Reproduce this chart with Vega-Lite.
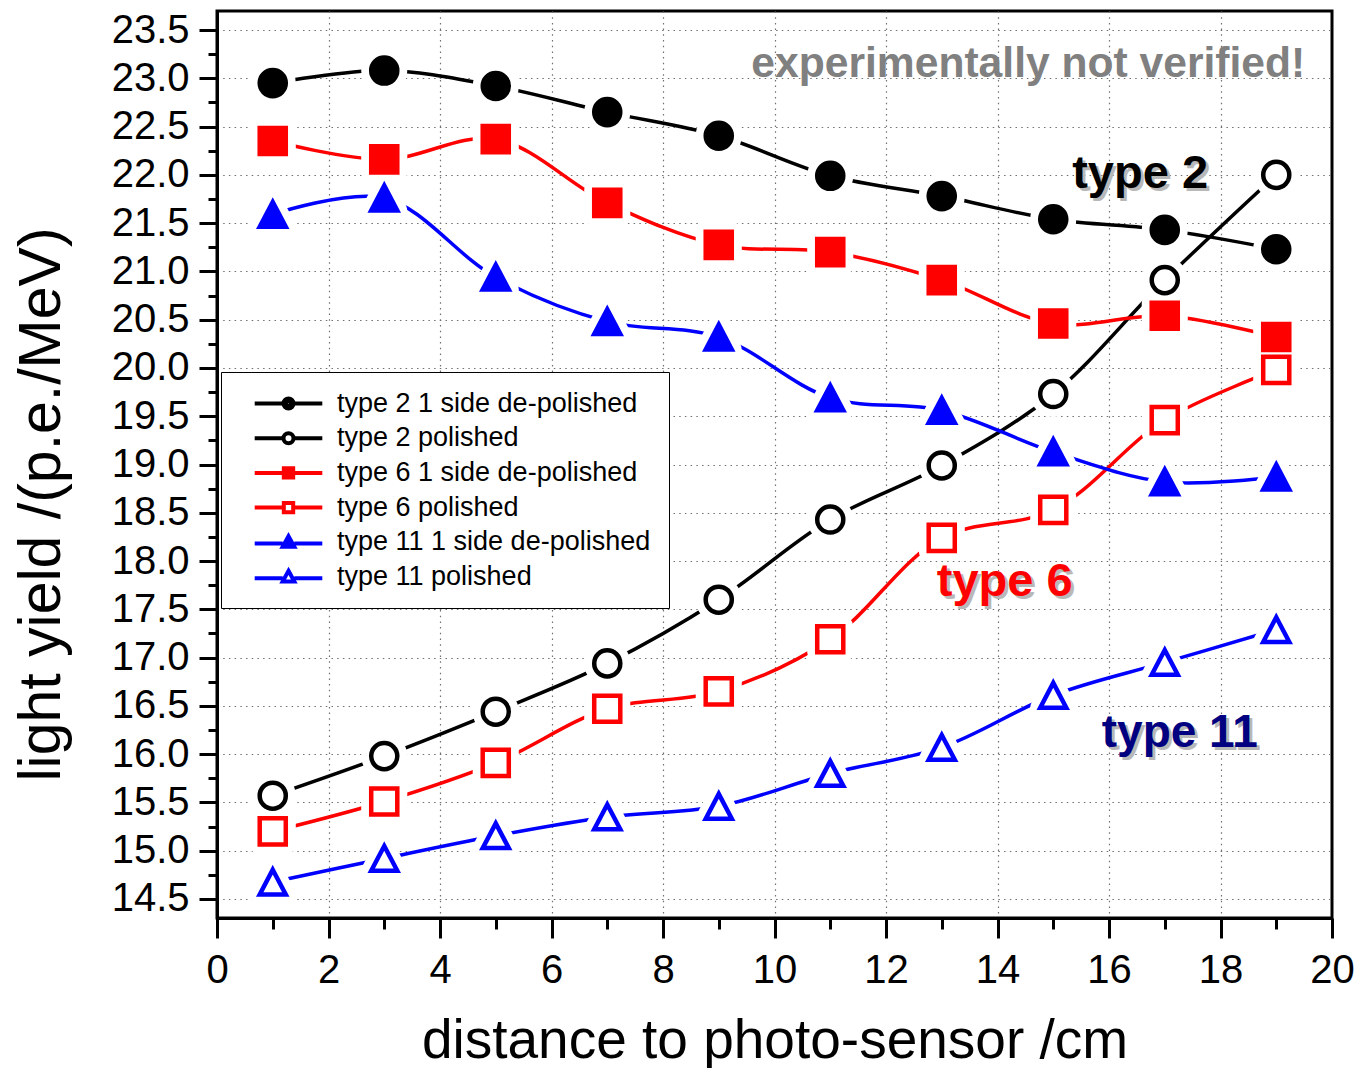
{
  "$schema": "https://vega.github.io/schema/vega-lite/v6.json",
  "width": 1115,
  "height": 907,
  "autosize": {"type": "none"},
  "padding": {"left": 217, "top": 11, "right": 27, "bottom": 150},
  "background": "white",
  "config": {
    "font": "Liberation Sans",
    "view": {"stroke": "black", "strokeWidth": 3}
  },
  "datasets": {
    "main": [
      {"series": "type 2 1 side de-polished", "x": 1, "y": 22.95},
      {"series": "type 2 1 side de-polished", "x": 3, "y": 23.08},
      {"series": "type 2 1 side de-polished", "x": 5, "y": 22.92},
      {"series": "type 2 1 side de-polished", "x": 7, "y": 22.65},
      {"series": "type 2 1 side de-polished", "x": 9, "y": 22.405},
      {"series": "type 2 1 side de-polished", "x": 11, "y": 21.99},
      {"series": "type 2 1 side de-polished", "x": 13, "y": 21.78},
      {"series": "type 2 1 side de-polished", "x": 15, "y": 21.54},
      {"series": "type 2 1 side de-polished", "x": 17, "y": 21.43},
      {"series": "type 2 1 side de-polished", "x": 19, "y": 21.23},
      {"series": "type 2 polished", "x": 1, "y": 15.57},
      {"series": "type 2 polished", "x": 3, "y": 15.98},
      {"series": "type 2 polished", "x": 5, "y": 16.44},
      {"series": "type 2 polished", "x": 7, "y": 16.94},
      {"series": "type 2 polished", "x": 9, "y": 17.6},
      {"series": "type 2 polished", "x": 11, "y": 18.43},
      {"series": "type 2 polished", "x": 13, "y": 18.99},
      {"series": "type 2 polished", "x": 15, "y": 19.73},
      {"series": "type 2 polished", "x": 17, "y": 20.91},
      {"series": "type 2 polished", "x": 19, "y": 22.0},
      {"series": "type 6 1 side de-polished", "x": 1, "y": 22.35},
      {"series": "type 6 1 side de-polished", "x": 3, "y": 22.16},
      {"series": "type 6 1 side de-polished", "x": 5, "y": 22.37},
      {"series": "type 6 1 side de-polished", "x": 7, "y": 21.71},
      {"series": "type 6 1 side de-polished", "x": 9, "y": 21.275},
      {"series": "type 6 1 side de-polished", "x": 11, "y": 21.2},
      {"series": "type 6 1 side de-polished", "x": 13, "y": 20.91},
      {"series": "type 6 1 side de-polished", "x": 15, "y": 20.46},
      {"series": "type 6 1 side de-polished", "x": 17, "y": 20.54},
      {"series": "type 6 1 side de-polished", "x": 19, "y": 20.32},
      {"series": "type 6 polished", "x": 1, "y": 15.2},
      {"series": "type 6 polished", "x": 3, "y": 15.51},
      {"series": "type 6 polished", "x": 5, "y": 15.91},
      {"series": "type 6 polished", "x": 7, "y": 16.47},
      {"series": "type 6 polished", "x": 9, "y": 16.65},
      {"series": "type 6 polished", "x": 11, "y": 17.19},
      {"series": "type 6 polished", "x": 13, "y": 18.24},
      {"series": "type 6 polished", "x": 15, "y": 18.53},
      {"series": "type 6 polished", "x": 17, "y": 19.46},
      {"series": "type 6 polished", "x": 19, "y": 19.98},
      {"series": "type 11 1 side de-polished", "x": 1, "y": 21.59},
      {"series": "type 11 1 side de-polished", "x": 3, "y": 21.76},
      {"series": "type 11 1 side de-polished", "x": 5, "y": 20.94},
      {"series": "type 11 1 side de-polished", "x": 7, "y": 20.48},
      {"series": "type 11 1 side de-polished", "x": 9, "y": 20.32},
      {"series": "type 11 1 side de-polished", "x": 11, "y": 19.69},
      {"series": "type 11 1 side de-polished", "x": 13, "y": 19.56},
      {"series": "type 11 1 side de-polished", "x": 15, "y": 19.13},
      {"series": "type 11 1 side de-polished", "x": 17, "y": 18.82},
      {"series": "type 11 1 side de-polished", "x": 19, "y": 18.87},
      {"series": "type 11 polished", "x": 1, "y": 14.675},
      {"series": "type 11 polished", "x": 3, "y": 14.92},
      {"series": "type 11 polished", "x": 5, "y": 15.155},
      {"series": "type 11 polished", "x": 7, "y": 15.35},
      {"series": "type 11 polished", "x": 9, "y": 15.46},
      {"series": "type 11 polished", "x": 11, "y": 15.8},
      {"series": "type 11 polished", "x": 13, "y": 16.07},
      {"series": "type 11 polished", "x": 15, "y": 16.61},
      {"series": "type 11 polished", "x": 17, "y": 16.95},
      {"series": "type 11 polished", "x": 19, "y": 17.29}
    ],
    "note": [{"x": 19.52, "y": 23.013, "text": "experimentally not verified!"}],
    "lab2": [{"x": 15.34, "y": 21.86, "text": "type 2"}],
    "lab6": [{"x": 12.91, "y": 17.635, "text": "type 6"}],
    "lab11": [{"x": 15.87, "y": 16.073, "text": "type 11"}]
  },
  "data": {"name": "main"},
  "encoding": {
    "x": {
      "field": "x", "type": "quantitative",
      "scale": {"domain": [0, 20], "nice": false, "zero": false},
      "axis": {
        "values": [0,1,2,3,4,5,6,7,8,9,10,11,12,13,14,15,16,17,18,19,20],
        "labelExpr": "datum.value % 2 == 0 ? datum.label : ''",
        "tickSize": {"condition": {"test": "datum.value % 2 == 0", "value": 20}, "value": 11},
        "grid": true,
        "gridOpacity": {"condition": {"test": "datum.value % 2 == 0 && datum.value > 0 && datum.value < 20", "value": 1}, "value": 0},
        "gridColor": "#707070", "gridDash": [1.5, 4.2], "gridWidth": 1.2,
        "domainColor": "black", "domainWidth": 3, "tickColor": "black", "tickWidth": 3,
        "labelFont": "Liberation Sans", "labelFontSize": 40, "labelColor": "black", "labelPadding": 12,
        "labelFlush": false, "labelOverlap": false,
        "title": "distance to photo-sensor /cm", "titleFont": "Liberation Sans", "titleFontSize": 55,
        "titleFontWeight": "normal", "titleColor": "black", "titleBaseline": "alphabetic", "titleY": 139
      }
    },
    "y": {
      "field": "y", "type": "quantitative",
      "scale": {"domain": [14.303, 23.697], "nice": false, "zero": false},
      "axis": {
        "values": [14.5,14.75,15,15.25,15.5,15.75,16,16.25,16.5,16.75,17,17.25,17.5,17.75,18,18.25,18.5,18.75,19,19.25,19.5,19.75,20,20.25,20.5,20.75,21,21.25,21.5,21.75,22,22.25,22.5,22.75,23,23.25,23.5],
        "format": ".1f",
        "labelExpr": "round(datum.value*2) == datum.value*2 ? datum.label : ''",
        "tickSize": {"condition": {"test": "round(datum.value*2) == datum.value*2", "value": 18}, "value": 9},
        "grid": true,
        "gridOpacity": {"condition": {"test": "round(datum.value*2) == datum.value*2", "value": 1}, "value": 0},
        "gridColor": "#707070", "gridDash": [1.5, 4.2], "gridWidth": 1.2,
        "domainColor": "black", "domainWidth": 3, "tickColor": "black", "tickWidth": 3,
        "labelFont": "Liberation Sans", "labelFontSize": 40, "labelColor": "black", "labelPadding": 10,
        "labelOverlap": false, "labelFlush": false,
        "title": "light yield /(p.e./MeV)", "titleFont": "Liberation Sans", "titleFontSize": 59,
        "titleFontWeight": "normal", "titleColor": "black", "titleAngle": -90, "titleAlign": "center",
        "titleBaseline": "alphabetic", "titleX": -158, "titleY": 493
      }
    }
  },
  "layer": [
    {
      "mark": {"type": "line", "interpolate": "catmull-rom", "strokeWidth": 3.5},
      "encoding": {
        "color": {
          "field": "series", "type": "nominal",
          "scale": {
            "domain": ["type 2 1 side de-polished", "type 2 polished", "type 6 1 side de-polished", "type 6 polished", "type 11 1 side de-polished", "type 11 polished"],
            "range": ["black", "black", "red", "red", "blue", "blue"]
          },
          "legend": null
        }
      }
    },
    {
      "mark": {"type": "point", "fill": "white", "stroke": "white", "strokeWidth": 20, "strokeJoin": "round", "opacity": 1},
      "encoding": {
        "detail": {"field": "series"},
        "shape": {
          "field": "series", "type": "nominal",
          "scale": {
            "domain": ["type 2 1 side de-polished", "type 2 polished", "type 6 1 side de-polished", "type 6 polished", "type 11 1 side de-polished", "type 11 polished"],
            "range": ["circle", "circle", "square", "square", "M0,-0.95L1,0.95L-1,0.95Z", "M0,-0.95L1,0.95L-1,0.95Z"]
          },
          "legend": null
        },
        "size": {
          "field": "series", "type": "nominal",
          "scale": {
            "domain": ["type 2 1 side de-polished", "type 2 polished", "type 6 1 side de-polished", "type 6 polished", "type 11 1 side de-polished", "type 11 polished"],
            "range": [680, 680, 680, 680, 1024, 1089]
          },
          "legend": null
        }
      }
    },
    {
      "mark": {"type": "point", "opacity": 1},
      "encoding": {
        "shape": {
          "field": "series", "type": "nominal",
          "scale": {
            "domain": ["type 2 1 side de-polished", "type 2 polished", "type 6 1 side de-polished", "type 6 polished", "type 11 1 side de-polished", "type 11 polished"],
            "range": ["circle", "circle", "square", "square", "M0,-0.95L1,0.95L-1,0.95Z", "M0,-0.95L1,0.95L-1,0.95Z"]
          },
          "legend": null
        },
        "size": {
          "field": "series", "type": "nominal",
          "scale": {
            "domain": ["type 2 1 side de-polished", "type 2 polished", "type 6 1 side de-polished", "type 6 polished", "type 11 1 side de-polished", "type 11 polished"],
            "range": [680, 680, 680, 680, 1024, 1089]
          },
          "legend": null
        },
        "strokeWidth": {
          "field": "series", "type": "nominal",
          "scale": {
            "domain": ["type 2 1 side de-polished", "type 2 polished", "type 6 1 side de-polished", "type 6 polished", "type 11 1 side de-polished", "type 11 polished"],
            "range": [4.5, 4.5, 4.5, 4.5, 4.5, 6]
          },
          "legend": null
        },
        "fill": {
          "field": "series", "type": "nominal",
          "scale": {
            "domain": ["type 2 1 side de-polished", "type 2 polished", "type 6 1 side de-polished", "type 6 polished", "type 11 1 side de-polished", "type 11 polished"],
            "range": ["black", "white", "red", "white", "blue", "white"]
          },
          "legend": null
        },
        "stroke": {
          "field": "series", "type": "nominal",
          "scale": {
            "domain": ["type 2 1 side de-polished", "type 2 polished", "type 6 1 side de-polished", "type 6 polished", "type 11 1 side de-polished", "type 11 polished"],
            "range": ["black", "black", "red", "red", "blue", "blue"]
          },
          "legend": null
        }
      }
    },
    {
      "mark": {"type": "point", "opacity": 0, "size": 169, "strokeWidth": 4},
      "encoding": {
        "shape": {
          "field": "series", "type": "nominal",
          "scale": {
            "domain": ["type 2 1 side de-polished", "type 2 polished", "type 6 1 side de-polished", "type 6 polished", "type 11 1 side de-polished", "type 11 polished"],
            "range": [
              "M-5.2,0H-0.77M0.77,0H5.2M-0.77,0A0.77,0.77,0,1,0,0.77,0A0.77,0.77,0,1,0,-0.77,0ZM-0.25,0A0.25,0.25,0,1,0,0.25,0A0.25,0.25,0,1,0,-0.25,0Z",
              "M-5.2,0H-0.77M0.77,0H5.2M-0.77,0A0.77,0.77,0,1,0,0.77,0A0.77,0.77,0,1,0,-0.77,0Z",
              "M-5.2,0H-0.72M0.72,0H5.2M-0.72,-0.72H0.72V0.72H-0.72ZM-0.2,-0.2H0.2V0.2H-0.2Z",
              "M-5.2,0H-0.72M0.72,0H5.2M-0.72,-0.72H0.72V0.72H-0.72Z",
              "M-5.2,0.2H-0.9M0.9,0.2H5.2M0,-0.95L0.9,0.7H-0.9ZM0,-0.05L0.18,0.3H-0.18Z",
              "M-5.2,0.2H-0.9M0.9,0.2H5.2M0,-0.95L0.9,0.7H-0.9Z"
            ]
          },
          "legend": {
            "title": null, "orient": "none", "legendX": 4, "legendY": 361,
            "padding": 18, "strokeColor": "black", "fillColor": "white",
            "labelFont": "Liberation Sans", "labelFontSize": 27, "labelColor": "black", "labelLimit": 0,
            "symbolSize": 169, "symbolStrokeWidth": 4, "symbolOffset": 36, "labelOffset": 35, "rowPadding": 6.7
          }
        },
        "stroke": {
          "field": "series", "type": "nominal",
          "scale": {
            "domain": ["type 2 1 side de-polished", "type 2 polished", "type 6 1 side de-polished", "type 6 polished", "type 11 1 side de-polished", "type 11 polished"],
            "range": ["black", "black", "red", "red", "blue", "blue"]
          },
          "legend": {
            "title": null, "orient": "none", "legendX": 4, "legendY": 361,
            "padding": 18, "strokeColor": "black", "fillColor": "white",
            "labelFont": "Liberation Sans", "labelFontSize": 27, "labelColor": "black", "labelLimit": 0,
            "symbolSize": 169, "symbolStrokeWidth": 4, "symbolOffset": 36, "labelOffset": 35, "rowPadding": 6.7
          }
        }
      }
    },
    {
      "data": {"name": "note"},
      "mark": {"type": "text", "align": "right", "baseline": "alphabetic", "font": "Liberation Sans", "fontWeight": "bold", "fontSize": 42.6, "color": "#808080"},
      "encoding": {"text": {"field": "text"}}
    },
    {
      "data": {"name": "lab2"},
      "mark": {"type": "text", "align": "left", "baseline": "alphabetic", "font": "Liberation Sans", "fontWeight": "bold", "fontSize": 47, "color": "#b8b8b8", "dx": 3, "dy": 3},
      "encoding": {"text": {"field": "text"}}
    },
    {
      "data": {"name": "lab2"},
      "mark": {"type": "text", "align": "left", "baseline": "alphabetic", "font": "Liberation Sans", "fontWeight": "bold", "fontSize": 47, "color": "black"},
      "encoding": {"text": {"field": "text"}}
    },
    {
      "data": {"name": "lab6"},
      "mark": {"type": "text", "align": "left", "baseline": "alphabetic", "font": "Liberation Sans", "fontWeight": "bold", "fontSize": 47, "color": "#b8b8b8", "dx": 3, "dy": 3},
      "encoding": {"text": {"field": "text"}}
    },
    {
      "data": {"name": "lab6"},
      "mark": {"type": "text", "align": "left", "baseline": "alphabetic", "font": "Liberation Sans", "fontWeight": "bold", "fontSize": 47, "color": "red"},
      "encoding": {"text": {"field": "text"}}
    },
    {
      "data": {"name": "lab11"},
      "mark": {"type": "text", "align": "left", "baseline": "alphabetic", "font": "Liberation Sans", "fontWeight": "bold", "fontSize": 46, "color": "#b8b8b8", "dx": 3, "dy": 3},
      "encoding": {"text": {"field": "text"}}
    },
    {
      "data": {"name": "lab11"},
      "mark": {"type": "text", "align": "left", "baseline": "alphabetic", "font": "Liberation Sans", "fontWeight": "bold", "fontSize": 46, "color": "#000080"},
      "encoding": {"text": {"field": "text"}}
    }
  ],
  "resolve": {"scale": {"shape": "independent", "fill": "independent", "stroke": "independent", "size": "independent", "strokeWidth": "independent"}}
}
